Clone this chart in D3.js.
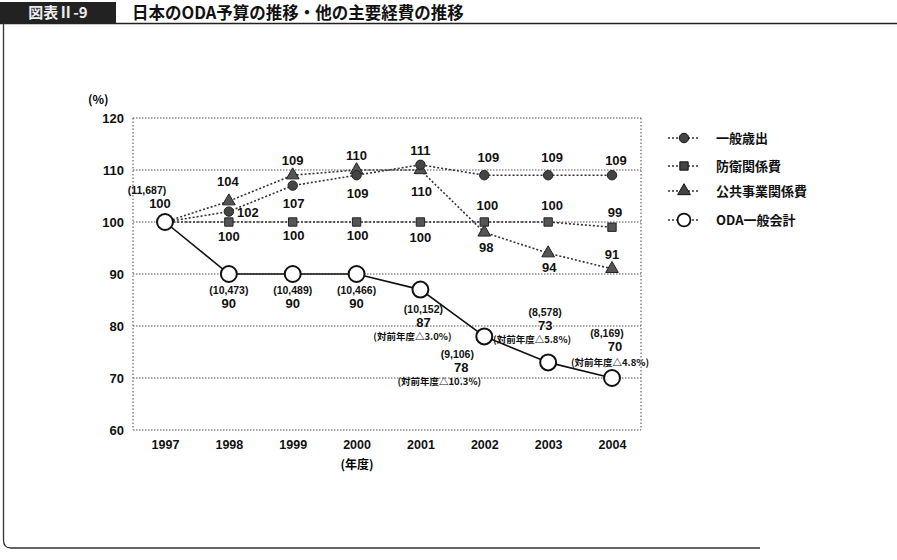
<!DOCTYPE html>
<html><head><meta charset="utf-8">
<script src="https://cdn.jsdelivr.net/npm/d3@7"></script>
<style>
body{margin:0;background:#fff;}
svg{display:block;font-family:"Noto Sans CJK JP","Liberation Sans",sans-serif;}
</style></head>
<body><svg id="c" width="897" height="560"></svg>
<script>
const years = [1997,1998,1999,2000,2001,2002,2003,2004];
const generalExp = [100,102,107,109,111,109,109,109];
const defense = [100,100,100,100,100,100,100,99];
const publicWorks = [100,104,109,110,110,98,94,91];
const oda = [100,90,90,90,87,78,73,70];
const odaAmount = ["(11,687)","(10,473)","(10,489)","(10,466)","(10,152)","(9,106)","(8,578)","(8,169)"];
const odaChange = [null,null,null,null,"(対前年度△3.0%)","(対前年度△10.3%)","(対前年度△5.8%)","(対前年度△4.8%)"];
const yTicks = [60,70,80,90,100,110,120];
const seriesNames = ["一般歳出","防衛関係費","公共事業関係費","ODA一般会計"];
const titleText = "日本のODA予算の推移・他の主要経費の推移";
const figLabel = "図表Ⅱ-9";

const svg = d3.select("#c");
const x = d3.scalePoint().domain(years).range([165,612]);
const y = d3.scaleLinear().domain([60,120]).range([430,118]);

// frame & title
svg.append("rect").attr("x",0).attr("y",2).attr("width",116).attr("height",21).attr("fill","#222");
svg.append("text").attr("x",58).attr("y",18).attr("text-anchor","middle").attr("fill","#eee")
  .attr("font-size",15).attr("font-weight","bold").text(figLabel);
svg.append("text").attr("x",132).attr("y",19).attr("fill","#111")
  .attr("font-size",16.5).attr("font-weight","bold").text(titleText);
svg.append("line").attr("x1",0).attr("x2",897).attr("y1",23.5).attr("y2",23.5).attr("stroke","#222").attr("stroke-width",1.5);
svg.append("path").attr("d","M3.5,23 L3.5,540 Q3.5,548 11,548 L760,548")
  .attr("fill","none").attr("stroke","#333").attr("stroke-width",1.3);

// grid
const g = svg.append("g");
yTicks.forEach(t=>{
  g.append("line").attr("x1",133).attr("x2",641).attr("y1",y(t)).attr("y2",y(t))
   .attr("stroke","#555").attr("stroke-width",1.2).attr("stroke-dasharray","1.5,1.5");
});
[133,641].forEach(xx=>{
  g.append("line").attr("x1",xx).attr("x2",xx).attr("y1",y(120)).attr("y2",y(60))
   .attr("stroke","#666").attr("stroke-width",1.2).attr("stroke-dasharray","1.5,2");
});
// y axis labels
const yAxis = d3.axisLeft(y).tickValues(yTicks).tickSize(0).tickPadding(0);
const ya = svg.append("g").attr("transform","translate(124,0)").call(yAxis);
ya.select(".domain").remove();
ya.selectAll("text").attr("font-size",13).attr("font-weight","bold").attr("fill","#111")
  .attr("font-family","Liberation Sans, Arial, sans-serif").attr("dy","0.35em");
svg.append("text").attr("x",88).attr("y",104).attr("font-size",12).attr("font-weight","bold").text("(%)");

// x axis labels
const xAxis = d3.axisBottom(x).tickSize(0).tickPadding(0);
const xa = svg.append("g").attr("transform","translate(0,440)").call(xAxis);
xa.select(".domain").remove();
xa.selectAll("text").attr("font-size",12.5).attr("font-weight","bold").attr("fill","#111")
  .attr("font-family","Liberation Sans, Arial, sans-serif");
svg.append("text").attr("x",357).attr("y",469).attr("text-anchor","middle").attr("font-size",12).attr("font-weight","bold").text("(年度)");

// lines
const line = d3.line().x((d,i)=>x(years[i])).y(d=>y(d));
const dotted = {stroke:"#333","stroke-width":1.6,"stroke-dasharray":"2,2"};
function drawLine(data, attrs){
  const p = svg.append("path").datum(data).attr("d",line).attr("fill","none");
  Object.entries(attrs).forEach(([k,v])=>p.attr(k,v));
}
drawLine(publicWorks, dotted);
drawLine(defense, dotted);
drawLine(generalExp, dotted);
drawLine(oda, {stroke:"#111","stroke-width":1.6});

// markers
const sym = {
  gen: d3.symbol(d3.symbolCircle, 70),
  def: d3.symbol(d3.symbolSquare, 70),
  pw: d3.symbol(d3.symbolTriangle, 70),
  oda: d3.symbol(d3.symbolCircle, 200)
};
function marks(data, s, fill, stroke, sw){
  svg.append("g").selectAll("path").data(data).join("path")
    .attr("d", s).attr("transform",(d,i)=>`translate(${x(years[i])},${y(d)})`)
    .attr("fill",fill).attr("stroke",stroke).attr("stroke-width",sw);
}
marks(publicWorks, sym.pw, "#555", "#222", 1);
marks(defense, sym.def, "#555", "#222", 1);
marks(generalExp, sym.gen, "#444", "#222", 1);
marks(oda, sym.oda, "#fff", "#111", 2);

// data labels
const numFont = "Liberation Sans, Arial, sans-serif";
function lab(xx, yy, t, size, anchor){
  svg.append("text").attr("x",xx).attr("y",yy).attr("text-anchor",anchor||"middle")
    .attr("font-size",size||13).attr("font-weight","bold").attr("fill","#111")
    .attr("font-family",numFont).text(t);
}
// offsets (dx, dy of label centre) relative to marker for each series label
const genOff = [null,[19,0],[1,17],[1,18],[0,-15],[4,-18],[4,-18],[4,-15]];
const defOff = [null,[0,14],[1,13],[1,13],[0,15],[3,-17],[4,-17],[3,-15]];
const pwOff  = [null,[-1,-20],[0,-15],[0,-15],[1,21],[2,15],[1,14],[0,-15]];
generalExp.forEach((v,i)=>{ if(genOff[i]) lab(x(years[i])+genOff[i][0], y(v)+genOff[i][1]+5, v); });
defense.forEach((v,i)=>{ if(defOff[i]) lab(x(years[i])+defOff[i][0], y(v)+defOff[i][1]+5, v); });
publicWorks.forEach((v,i)=>{ if(pwOff[i]) lab(x(years[i])+pwOff[i][0], y(v)+pwOff[i][1]+5, v); });

// ODA labels: amount baseline offset, value printed 14px lower
const odaOff = [[-18,-28],[0,20],[0,20],[0,20],[3,23],[-27,22],[-3,-46],[-5,-41]];
oda.forEach((v,i)=>{
  const bx = x(years[i])+odaOff[i][0], by = y(v)+odaOff[i][1];
  lab(bx, by, odaAmount[i], 10.5);
  lab(bx + (i===0?13:i===5?4:i===7?8:0), by+14, v, 13);
});
const chgPos = [null,null,null,null,[-8,50],[-45,49],[-16,-19],[-2,-12]];
odaChange.forEach((t,i)=>{
  if(!t) return;
  const bx = x(years[i])+chgPos[i][0], by = y(oda[i])+chgPos[i][1];
  svg.append("text").attr("x",bx).attr("y",by).attr("text-anchor","middle")
    .attr("font-size",9.5).attr("font-weight","bold").attr("fill","#111").text(t);
});

// legend
const lg = svg.append("g");
const legSyms = [sym.gen, sym.def, sym.pw, sym.oda];
const legY = [138,166,191,220];
seriesNames.forEach((n,i)=>{
  const yy = legY[i];
  lg.append("line").attr("x1",668).attr("x2",700).attr("y1",yy).attr("y2",yy)
    .attr("stroke","#333").attr("stroke-width",1.5).attr("stroke-dasharray", "2,2");
  lg.append("path").attr("d", i===3 ? d3.symbol(d3.symbolCircle,130)() : legSyms[i]())
    .attr("transform",`translate(684,${yy})`)
    .attr("fill", i===3?"#fff":"#444").attr("stroke","#111").attr("stroke-width", i===3?1.8:1);
  lg.append("text").attr("x",716).attr("y",yy+5).attr("font-size",13).attr("font-weight","bold")
    .attr("fill","#111").text(n);
});
</script></body></html>
